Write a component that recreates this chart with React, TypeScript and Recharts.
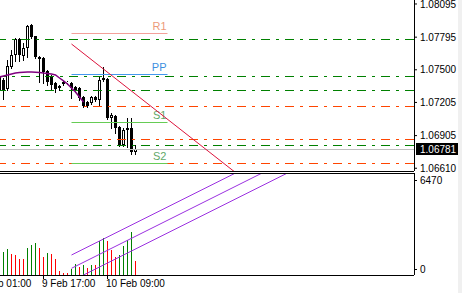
import React from 'react';
import { ComposedChart, Bar, Line, XAxis, YAxis, ReferenceLine } from 'recharts';

// hourly bars, index 0 = 9 Feb 07:00
const barIndex = [-1, 0, 1, 2, 3, 4, 5, 6, 7, 8, 9, 10, 11, 12, 13, 14, 15, 16, 17, 18, 19, 20, 21, 22, 23, 24, 25, 26, 27, 28, 29, 30, 31, 32, 33];
const open = [1.07444, 1.07408, 1.07327, 1.07525, 1.07634, 1.07779, 1.07625, 1.07697, 1.07905, 1.07806, 1.07616, 1.07607, 1.07489, 1.07444, 1.07381, 1.07354, 1.07372, 1.07385, 1.07381, 1.07345, 1.07336, 1.07254, 1.07209, 1.072, 1.07254, 1.07227, 1.07408, 1.07417, 1.07065, 1.07083, 1.06983, 1.0682, 1.06956, 1.06974, 1.06757];
const high = [1.07462, 1.07426, 1.07589, 1.07679, 1.07788, 1.07788, 1.07742, 1.07905, 1.0791, 1.07806, 1.07625, 1.07616, 1.07495, 1.07453, 1.0739, 1.07363, 1.07399, 1.07399, 1.0739, 1.07354, 1.07345, 1.07263, 1.07218, 1.07263, 1.07263, 1.07435, 1.07525, 1.07426, 1.0711, 1.07092, 1.06992, 1.06974, 1.07065, 1.07065, 1.0682];
const low = [1.073, 1.07236, 1.07318, 1.07516, 1.0758, 1.0758, 1.07589, 1.07616, 1.07788, 1.07607, 1.0739, 1.07381, 1.07363, 1.07327, 1.073, 1.07318, 1.07363, 1.07372, 1.07245, 1.073, 1.07227, 1.07164, 1.07164, 1.07191, 1.07218, 1.07182, 1.07399, 1.07055, 1.06974, 1.06929, 1.06811, 1.06811, 1.06802, 1.06739, 1.06739];
const close = [1.07318, 1.07318, 1.07534, 1.07634, 1.07779, 1.07634, 1.07697, 1.07896, 1.07797, 1.07616, 1.07598, 1.0748, 1.0739, 1.07363, 1.07327, 1.07336, 1.0739, 1.07388, 1.07336, 1.07318, 1.07245, 1.07173, 1.07173, 1.07254, 1.07227, 1.07408, 1.07426, 1.07065, 1.07092, 1.06974, 1.0682, 1.06956, 1.06974, 1.06757, 1.06781];
const maValues = [1.07435, 1.07444, 1.07453, 1.07462, 1.07471, 1.07476, 1.07478, 1.0748, 1.0748, 1.07478, 1.07476, 1.07471, 1.07467, 1.07462, 1.07453, 1.07426, 1.07399, 1.07372, 1.07336, 1.073, 1.07254, 1.07209];
const volume = [1300, 1473, 1666, 1345, 1281, 1025, 1010, 1730, 1922, 2050, 1730, 1153, 1409, 1345, 1025, 256, 128, 120, 384, 705, 512, 640, 448, 640, 620, 2200, 2370, 2200, 1600, 1150, 1280, 1860, 2240, 2750, 920];

const priceTicks = [1.08095, 1.07795, 1.075, 1.07205, 1.06905, 1.0661];
const lastPrice = 1.06781;
const greenLevels = [1.07776, 1.07441, 1.07318, 1.06818];
const orangeLevels = [1.07173, 1.06875, 1.06655];
const pivotNames = ['R1', 'PP', 'S1', 'S2'];
const pivotValues = [1.0783, 1.07462, 1.07026, 1.06655];
const pivotColors = ['#f4a09a', '#4499ee', '#66cc55', '#66cc55'];
const pivotTextColors = ['#ec9a78', '#3d8fe0', '#5fa86a', '#5fa86a'];
const pivotFrom = 17;
const pivotTo = 41;
const trendBars = [17, 58];
const trendPrices = [1.07733, 1.06571];
const channelBars = [17, 75];
const channelFrom = [1281, 429, -384];
const channelTo = [8711, 7859, 7046];
const volTicks = [0, 6470];
const timeTicks = [-6, 10, 26];
const timeLabels = ['9 Feb 01:00', '9 Feb 17:00', '10 Feb 09:00'];

const X_DOMAIN: [number, number] = [-0.875, 102.625];
const PRICE_DOMAIN: [number, number] = [1.06585, 1.08131];
const FONT = '"Liberation Sans", Arial, sans-serif';
const DASHDOT = '9 6 3 6';

const rows = barIndex.map((i, k) => ({
  i,
  open: open[k],
  high: high[k],
  low: low[k],
  close: close[k],
  ma: k < maValues.length ? maValues[k] : null,
  volume: volume[k],
  up: k === 0 || volume[k] > volume[k - 1],
}));

function Candle(props: any) {
  let { x, y, width, height, payload } = props;
  if (!payload || height == null) return null;
  if (height < 0) {
    y += height;
    height = -height;
  }
  const { open: o, high: h, low: l, close: c } = payload;
  const k = height / (h - l);
  const py = (p: number) => y + (h - p) * k;
  const cx = Math.floor(x + width / 2) + 0.5;
  const hi = Math.round(py(h));
  const lo = Math.round(py(l));
  const top = Math.round(py(Math.max(o, c)));
  const bot = Math.max(Math.round(py(Math.min(o, c))), top + 1);
  if (c > o) {
    return (
      <g>
        <line x1={cx} x2={cx} y1={hi} y2={top} stroke="#000" />
        <line x1={cx} x2={cx} y1={bot} y2={lo + 1} stroke="#000" />
        <rect x={cx - 1} y={top + 0.5} width={2} height={Math.max(bot - top - 1, 0)} fill="#fff" stroke="#000" />
      </g>
    );
  }
  return (
    <g>
      <line x1={cx} x2={cx} y1={hi} y2={lo + 1} stroke="#000" />
      <rect x={cx - 1.5} y={top} width={3} height={bot - top} fill="#000" />
    </g>
  );
}

function VolumeBar(props: any) {
  let { x, y, width, height, payload } = props;
  if (!payload || height == null) return null;
  if (height < 0) {
    y += height;
    height = -height;
  }
  const cx = Math.floor(x + width / 2);
  return <rect x={cx} y={Math.round(y)} width={1} height={Math.round(height)} fill={payload.up ? '#008000' : '#ff0000'} />;
}

// horizontal level drawn on a whole pixel row
const flatLine = (color: string, dash?: string) => (p: any) => {
  const yy = Math.round(p.y1) + 0.5;
  return <line x1={p.x1} x2={p.x2} y1={yy} y2={yy} stroke={color} strokeWidth={1} strokeDasharray={dash} />;
};

function TimeTick(props: any) {
  const { x, y, payload } = props;
  const label = timeLabels[timeTicks.indexOf(payload.value)];
  return (
    <g>
      <line x1={x} x2={x} y1={y} y2={y + 4} stroke="#000" />
      <text x={x - 1.5} y={y + 12} fontSize={10} fill="#000" fontFamily={FONT}>
        {label}
      </text>
    </g>
  );
}

function VolTick(props: any) {
  const { x, y, payload } = props;
  const ty = payload.value > 0 ? y + 6 : y - 6;
  return (
    <g>
      <line x1={x} x2={x + 3} y1={Math.round(ty) + 0.5} y2={Math.round(ty) + 0.5} stroke="#000" />
      <text x={x + 6} y={ty} dy="0.355em" fontSize={10} fill="#000" fontFamily={FONT}>
        {payload.value}
      </text>
    </g>
  );
}

const pivotLabel = (text: string, color: string) => (p: any) => {
  const vb = p.viewBox;
  if (!vb) return null;
  return (
    <text x={vb.x + vb.width - 1} y={vb.y - 3} textAnchor="end" fill={color} fontSize={11} fontFamily={FONT}>
      {text}
    </text>
  );
};

const priceTag = (p: any) => {
  const vb = p.viewBox;
  if (!vb) return null;
  const left = vb.x + vb.width + 2;
  return (
    <g>
      <rect x={left} y={Math.round(vb.y) - 6} width={42} height={12} fill="#000" />
      <text x={left + 4} y={vb.y} dy="0.355em" fill="#fff" fontSize={10} fontFamily={FONT}>
        {lastPrice.toFixed(5)}
      </text>
    </g>
  );
};

export default function App() {
  return (
    <div
      style={{
        position: 'fixed',
        left: 0,
        top: 0,
        width: 462,
        height: 293,
        background: '#fff',
        overflow: 'hidden',
        fontFamily: FONT,
      }}
    >
      <div style={{ position: 'absolute', left: 0, top: 0 }}>
        <ComposedChart
          width={462}
          height={180}
          data={rows}
          margin={{ top: 0, right: 0, bottom: 8, left: 0 }}
          barCategoryGap={0}
          barGap={0}
        >
          <XAxis
            type="number"
            dataKey="i"
            domain={X_DOMAIN}
            allowDataOverflow
            height={1}
            tick={false}
            tickLine={false}
            axisLine={{ stroke: '#000', shapeRendering: 'crispEdges' }}
          />
          <YAxis
            orientation="right"
            width={48}
            type="number"
            domain={PRICE_DOMAIN}
            allowDataOverflow
            ticks={priceTicks}
            interval={0}
            tickSize={3}
            tickMargin={3}
            tickFormatter={(v: number) => v.toFixed(5)}
            tick={{ fill: '#000', fontSize: 10, fontFamily: FONT }}
            tickLine={{ stroke: '#000' }}
            axisLine={{ stroke: '#000', shapeRendering: 'crispEdges' }}
          />
          {greenLevels.map((v) => (
            <ReferenceLine key={'g' + v} y={v} stroke="#008000" shape={flatLine('#008000', DASHDOT)} />
          ))}
          {orangeLevels.map((v) => (
            <ReferenceLine key={'o' + v} y={v} stroke="#ff4500" shape={flatLine('#ff4500', DASHDOT)} />
          ))}
          <ReferenceLine y={lastPrice} stroke="#c0c0c0" shape={flatLine('#c0c0c0')} label={priceTag} />
          {pivotNames.map((name, k) => (
            <ReferenceLine
              key={name}
              segment={[
                { x: pivotFrom, y: pivotValues[k] },
                { x: pivotTo, y: pivotValues[k] },
              ]}
              stroke={pivotColors[k]}
              shape={flatLine(pivotColors[k])}
              label={pivotLabel(name, pivotTextColors[k])}
            />
          ))}
          <Line
            dataKey="ma"
            stroke="#800080"
            strokeWidth={1.5}
            dot={false}
            activeDot={false}
            connectNulls={false}
            isAnimationActive={false}
          />
          <Bar
            dataKey={(d: any) => [d.low, d.high]}
            shape={(p: any) => <Candle {...p} />}
            isAnimationActive={false}
          />
          <ReferenceLine
            segment={[
              { x: trendBars[0], y: trendPrices[0] },
              { x: trendBars[1], y: trendPrices[1] },
            ]}
            stroke="#dc143c"
            ifOverflow="hidden"
          />
        </ComposedChart>
      </div>
      <div style={{ position: 'absolute', left: 0, top: 172 }}>
        <ComposedChart
          width={462}
          height={121}
          data={rows}
          margin={{ top: 2, right: 0, bottom: 0, left: 0 }}
          barCategoryGap={0}
          barGap={0}
        >
          <XAxis
            type="number"
            dataKey="i"
            domain={X_DOMAIN}
            allowDataOverflow
            height={18}
            ticks={timeTicks}
            interval={0}
            tickSize={0}
            tickMargin={0}
            tick={<TimeTick />}
            tickLine={false}
            axisLine={{ stroke: '#000', shapeRendering: 'crispEdges' }}
          />
          <YAxis
            orientation="right"
            width={48}
            type="number"
            domain={[0, 6470]}
            allowDataOverflow
            ticks={volTicks}
            interval={0}
            tickSize={0}
            tickMargin={0}
            tick={<VolTick />}
            tickLine={false}
            axisLine={{ stroke: '#000', shapeRendering: 'crispEdges' }}
          />
          <Bar dataKey="volume" shape={(p: any) => <VolumeBar {...p} />} isAnimationActive={false} />
          {channelFrom.map((v, k) => (
            <ReferenceLine
              key={'c' + k}
              segment={[
                { x: channelBars[0], y: v },
                { x: channelBars[1], y: channelTo[k] },
              ]}
              stroke="#9b30e0"
              ifOverflow="hidden"
            />
          ))}
        </ComposedChart>
      </div>
      <div style={{ position: 'absolute', left: 0, top: 173, width: 415, height: 1, background: '#000' }} />
      <div style={{ position: 'absolute', left: 458, top: 0, width: 4, height: 293, background: '#f0f0f0' }} />
    </div>
  );
}
